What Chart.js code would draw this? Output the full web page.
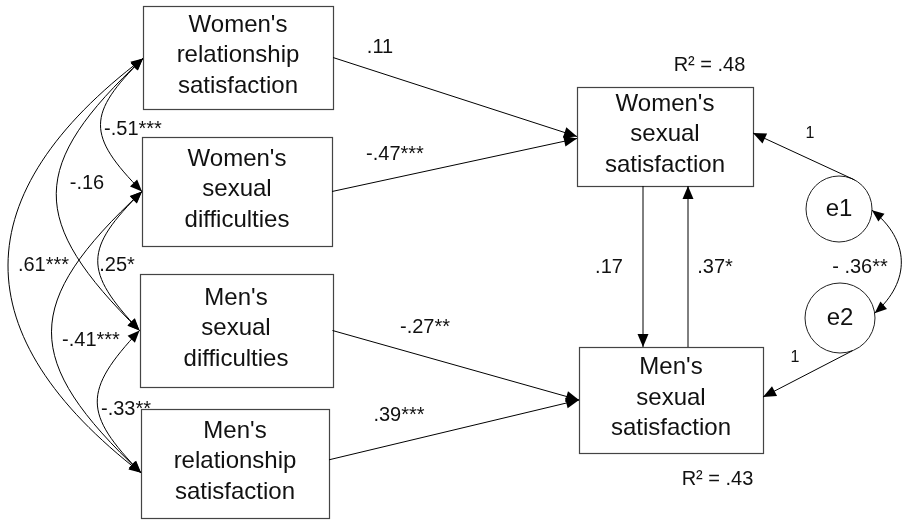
<!DOCTYPE html>
<html>
<head>
<meta charset="utf-8">
<script src="https://cdn.jsdelivr.net/npm/chart.js@4.4.1/dist/chart.umd.min.js"></script>
<style>
  html, body { margin: 0; padding: 0; background: #ffffff; }
  #wrap { width: 903px; height: 520px; }
</style>
</head>
<body>
<div id="wrap"><canvas id="c" width="903" height="520"></canvas></div>
<script>
// ---------------- DATA ----------------
const nodeNames  = ['WRS', 'WSD', 'MSD', 'MRS', 'WSS', 'MSS', 'e1', 'e2'];
const nodeLabels = [
  ["Women's", "relationship", "satisfaction"],
  ["Women's", "sexual", "difficulties"],
  ["Men's", "sexual", "difficulties"],
  ["Men's", "relationship", "satisfaction"],
  ["Women's", "sexual", "satisfaction"],
  ["Men's", "sexual", "satisfaction"],
  ["e1"],
  ["e2"]
];
// directed paths (regression weights)
const pathFrom  = ['WRS', 'WSD', 'MSD', 'MRS', 'WSS', 'MSS', 'e1', 'e2'];
const pathTo    = ['WSS', 'WSS', 'MSS', 'MSS', 'MSS', 'WSS', 'WSS', 'MSS'];
const pathCoefs = ['.11', '-.47***', '-.27**', '.39***', '.17', '.37*', '1', '1'];
// covariances / correlations (double-headed)
const corrA     = ['WRS', 'WRS', 'WRS', 'WSD', 'WSD', 'MSD', 'e1'];
const corrB     = ['WSD', 'MSD', 'MRS', 'MSD', 'MRS', 'MRS', 'e2'];
const corrCoefs = ['-.51***', '-.16', '.61***', '.25*', '-.41***', '-.33**', '- .36**'];
// explained variance
const r2Nodes  = ['WSS', 'MSS'];
const r2Values = ['.48', '.43'];

// ---------------- LAYOUT (diagram units) ----------------
const layout = {
  WRS: { shape: 'box', cx: 238, cy: 57.5,  w: 190, h: 103 },
  WSD: { shape: 'box', cx: 237, cy: 191.5, w: 190, h: 109 },
  MSD: { shape: 'box', cx: 236, cy: 330.5, w: 193, h: 113 },
  MRS: { shape: 'box', cx: 235, cy: 463.8, w: 188, h: 109 },
  WSS: { shape: 'box', cx: 665, cy: 136.5, w: 176, h: 99 },
  MSS: { shape: 'box', cx: 671, cy: 400,   w: 184, h: 106 },
  e1:  { shape: 'circle', cx: 839, cy: 209, r: 33 },
  e2:  { shape: 'circle', cx: 840, cy: 318, r: 35 }
};
// port spec: [side, dx, dy] for boxes, ['A', angleDeg] for circles
const pathPorts = [
  { s: ['R', 0, 0],   t: ['L', 0, 0] },
  { s: ['R', 0, 0],   t: ['L', 0, 2] },
  { s: ['R', 0, 0],   t: ['L', 0, 0] },
  { s: ['R', 0, -4],  t: ['L', 0, 0] },
  { s: ['B', -22, 0], t: ['T', -28, 0] },
  { s: ['T', 17, 0],  t: ['B', 23, 0] },
  { s: ['A', -62],    t: ['R', 0, -3.5] },
  { s: ['A', 69],     t: ['R', 0, -3] }
];
const pathLabelPos = [[380, 47], [395, 154.5], [425, 327], [399, 415], [609, 267], [715, 267], [810, 134], [795, 358]];
const pathLabelSize = [20, 20, 20, 20, 20, 20, 16, 16];
const corrPorts = [
  { a: ['L', 0, 1],  b: ['L', 0, 0] },
  { a: ['L', 0, 1],  b: ['L', 0, 0] },
  { a: ['L', 0, 1],  b: ['L', 0, 9] },
  { a: ['L', 0, 0],  b: ['L', 0, 0] },
  { a: ['L', 0, 0],  b: ['L', 0, 9] },
  { a: ['L', 0, 0],  b: ['L', 0, 9] },
  { a: ['A', 2],     b: ['A', -8] }
];
const corrBulge = [-42, -85, -134, -43, -90, -43, 28];
const corrHandle = [0.42, 0.40, 0.33, 0.42, 0.40, 0.42, 0.30];
const corrLabelPos = [[133, 129], [87, 183], [43.5, 265], [117, 265], [91, 340], [126, 409], [860, 267]];
const r2LabelPos = [[709.5, 65], [717.5, 479]];

const FONT = '"Liberation Sans", Arial, Helvetica, sans-serif';

// ---------------- DRAWING PLUGIN ----------------
const diagramPlugin = {
  id: 'semDiagram',
  beforeDraw(chart) {
    const c = chart.ctx;
    c.save();
    c.fillStyle = '#ffffff';
    c.fillRect(0, 0, chart.width, chart.height);
    c.restore();
  },
  afterDraw(chart) {
    const ctx = chart.ctx;
    const xs = chart.scales.x, ys = chart.scales.y;
    const X = v => xs.getPixelForValue(v);
    const Y = v => ys.getPixelForValue(v);
    const W = d => Math.abs(X(d) - X(0));
    const H = d => Math.abs(Y(d) - Y(0));

    function port(name, spec) {
      const n = layout[name];
      if (spec[0] === 'A') {
        const a = spec[1] * Math.PI / 180;
        return { x: X(n.cx + n.r * Math.cos(a)), y: Y(n.cy + n.r * Math.sin(a)) };
      }
      const [side, dx, dy] = spec;
      let px = n.cx, py = n.cy;
      if (side === 'L') px = n.cx - n.w / 2;
      if (side === 'R') px = n.cx + n.w / 2;
      if (side === 'T') py = n.cy - n.h / 2;
      if (side === 'B') py = n.cy + n.h / 2;
      return { x: X(px + dx), y: Y(py + dy) };
    }

    function arrowHead(tx, ty, dx, dy, len, half) {
      const L = Math.hypot(dx, dy) || 1;
      const ux = dx / L, uy = dy / L;
      const bx = tx - ux * len, by = ty - uy * len;
      ctx.beginPath();
      ctx.moveTo(tx, ty);
      ctx.lineTo(bx - uy * half, by + ux * half);
      ctx.lineTo(bx + uy * half, by - ux * half);
      ctx.closePath();
      ctx.fillStyle = '#000';
      ctx.fill();
    }

    function text(str, x, y, size, align) {
      ctx.font = size + 'px ' + FONT;
      ctx.fillStyle = '#111';
      ctx.textAlign = align || 'center';
      ctx.textBaseline = 'middle';
      ctx.fillText(str, x, y);
    }

    // nodes
    nodeNames.forEach((name, i) => {
      const n = layout[name];
      ctx.save();
      if (n.shape === 'box') {
        const x0 = Math.round(X(n.cx - n.w / 2)) + 0.5;
        const y0 = Math.round(Y(n.cy - n.h / 2)) + 0.5;
        const w = Math.round(W(n.w)), h = Math.round(H(n.h));
        ctx.fillStyle = '#fff';
        ctx.fillRect(x0, y0, w, h);
        ctx.strokeStyle = '#444';
        ctx.lineWidth = 1.2;
        ctx.strokeRect(x0, y0, w, h);
        const lines = nodeLabels[i];
        const lh = 30.5;
        lines.forEach((ln, k) => {
          text(ln, X(n.cx), Y(n.cy - 2 + (k - (lines.length - 1) / 2) * lh), 24);
        });
      } else {
        ctx.beginPath();
        ctx.arc(X(n.cx), Y(n.cy), W(n.r), 0, Math.PI * 2);
        ctx.fillStyle = '#fff';
        ctx.fill();
        ctx.strokeStyle = '#222';
        ctx.lineWidth = 1;
        ctx.stroke();
        text(nodeLabels[i][0], X(n.cx), Y(n.cy), 24);
      }
      ctx.restore();
    });

    // directed paths
    pathFrom.forEach((from, i) => {
      const p1 = port(from, pathPorts[i].s);
      const p2 = port(pathTo[i], pathPorts[i].t);
      ctx.save();
      ctx.strokeStyle = '#000';
      ctx.lineWidth = 1;
      ctx.beginPath();
      ctx.moveTo(p1.x, p1.y);
      ctx.lineTo(p2.x, p2.y);
      ctx.stroke();
      arrowHead(p2.x, p2.y, p2.x - p1.x, p2.y - p1.y, 13, 5.5);
      const lp = pathLabelPos[i];
      text(pathCoefs[i], X(lp[0]), Y(lp[1]), pathLabelSize[i]);
      ctx.restore();
    });

    // covariance curves (cubic bezier, double-headed)
    corrA.forEach((a, i) => {
      const p1 = port(a, corrPorts[i].a);
      const p2 = port(corrB[i], corrPorts[i].b);
      const s = corrBulge[i];
      const dx = p2.x - p1.x, dy = p2.y - p1.y;
      const c = Math.hypot(dx, dy);
      const ux = dx / c, uy = dy / c;
      const nx = uy, ny = -ux;
      const as = W(Math.abs(s)) * Math.sign(s);
      const ha = as * 4 / 3;
      const hb = corrHandle[i] * c;
      const c1 = { x: p1.x + nx * ha + ux * hb, y: p1.y + ny * ha + uy * hb };
      const c2 = { x: p2.x + nx * ha - ux * hb, y: p2.y + ny * ha - uy * hb };
      ctx.save();
      ctx.strokeStyle = '#000';
      ctx.lineWidth = 1;
      ctx.beginPath();
      ctx.moveTo(p1.x, p1.y);
      ctx.bezierCurveTo(c1.x, c1.y, c2.x, c2.y, p2.x, p2.y);
      ctx.stroke();
      arrowHead(p1.x, p1.y, p1.x - c1.x, p1.y - c1.y, 12, 5);
      arrowHead(p2.x, p2.y, p2.x - c2.x, p2.y - c2.y, 12, 5);
      const lp = corrLabelPos[i];
      text(corrCoefs[i], X(lp[0]), Y(lp[1]), 20);
      ctx.restore();
    });

    // R squared
    r2Nodes.forEach((n, i) => {
      const lp = r2LabelPos[i];
      text('R\u00B2 = ' + r2Values[i], X(lp[0]), Y(lp[1]), 20);
    });
  }
};

new Chart(document.getElementById('c').getContext('2d'), {
  type: 'scatter',
  data: {
    datasets: [{
      label: 'nodes',
      data: nodeNames.map(n => ({ x: layout[n].cx, y: layout[n].cy })),
      pointRadius: 0,
      pointHoverRadius: 0
    }]
  },
  options: {
    responsive: false,
    maintainAspectRatio: false,
    animation: false,
    devicePixelRatio: 1,
    layout: { padding: 0 },
    events: [],
    plugins: { legend: { display: false }, tooltip: { enabled: false }, title: { display: false } },
    scales: {
      x: { type: 'linear', min: 0, max: 903, display: false },
      y: { type: 'linear', min: 0, max: 520, reverse: true, display: false }
    }
  },
  plugins: [diagramPlugin]
});
</script>
</body>
</html>
